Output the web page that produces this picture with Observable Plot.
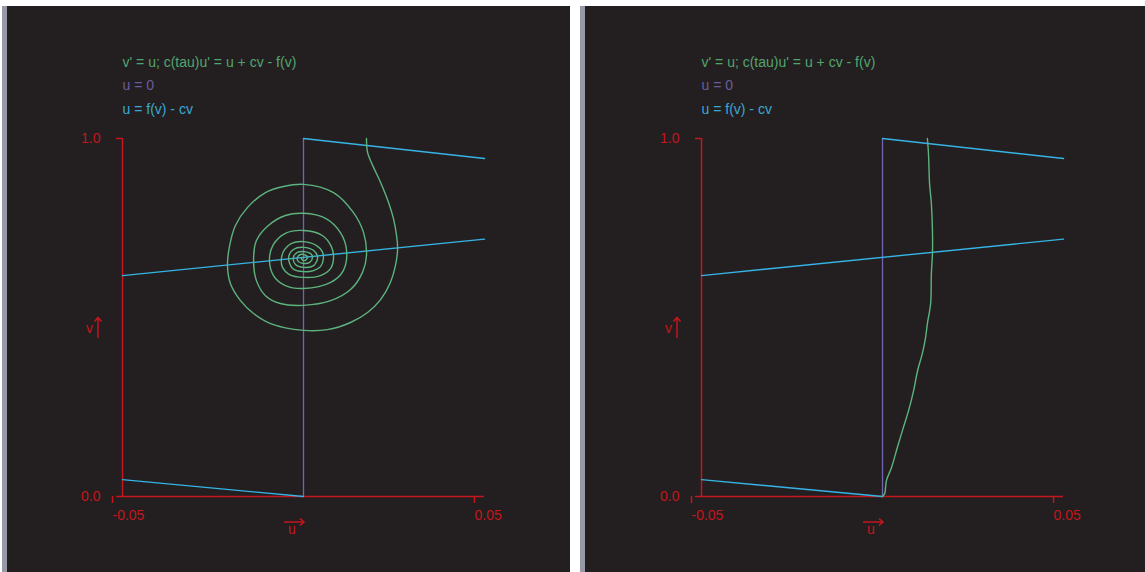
<!DOCTYPE html>
<html>
<head>
<meta charset="utf-8">
<script src="https://cdn.jsdelivr.net/npm/d3@7"></script>
<script src="https://cdn.jsdelivr.net/npm/@observablehq/plot@0.6"></script>
<style>
  html, body { margin: 0; padding: 0; background: #ffffff; width: 1145px; height: 572px; overflow: hidden; }
  .panel {
    position: absolute; top: 6px; height: 566px;
    background: #231f20;
    border-left: 5px solid #979aa5;
    overflow: hidden;
  }
  #left { left: 2px; width: 563px; }
  #right { left: 580px; width: 570px; }
  .panel svg { display: block; overflow: visible; }
</style>
</head>
<body>
<div class="panel" id="left"></div>
<div class="panel" id="right"></div>
<script>
// Phase plane of v' = u, c(tau) u' = u + c v - f(v)
const uDomain = [-0.05, 0.05];
const vDomain = [0, 1];
const uTicks = [-0.05, 0.05];
const vTicks = [0, 1];

const legendLabels = ["v' = u; c(tau)u' = u + cv - f(v)", "u = 0", "u = f(v) - cv"];
const axisNames = { x: "u", y: "v" };

// u = 0 nullcline
const zeroU = [0];

// u = f(v) - cv, three visible branches inside the window
const nullclineU = [0, -0.05, -0.05, 0.05, 0, 0.05];
const nullclineV = [0, 0.047, 0.617, 0.719, 1.0, 0.944];
const nullclineBranch = ["low", "low", "mid", "mid", "high", "high"];

// trajectory spiralling into the fixed point (left panel)
const spiral = [
  [0.0174, 1.000], [0.0177, 0.961], [0.0191, 0.925], [0.0213, 0.877], [0.0235, 0.821],
  [0.0249, 0.774], [0.0257, 0.729], [0.0260, 0.693], [0.0254, 0.645], [0.0240, 0.598],
  [0.0213, 0.550], [0.0177, 0.514], [0.0130, 0.486], [0.0066, 0.466], [0, 0.464],
  [-0.0091, 0.483], [-0.0138, 0.511], [-0.0174, 0.547], [-0.0202, 0.595], [-0.0210, 0.645],
  [-0.0204, 0.701], [-0.0188, 0.757], [-0.0155, 0.807], [-0.0105, 0.849], [-0.0055, 0.866],
  [0, 0.872], [0.0083, 0.849], [0.0138, 0.793], [0.0166, 0.737], [0.0174, 0.673],
  [0.0163, 0.626], [0.0130, 0.578], [0.0075, 0.547], [0, 0.534],
  [-0.0064, 0.539], [-0.0105, 0.561], [-0.0130, 0.603], [-0.0138, 0.659], [-0.0130, 0.715],
  [-0.0097, 0.757], [-0.0050, 0.785], [0, 0.791], [0.0061, 0.777], [0.0102, 0.737],
  [0.0119, 0.687], [0.0110, 0.631], [0.0075, 0.598], [0, 0.581],
  [-0.0050, 0.589], [-0.0083, 0.617], [-0.0094, 0.665], [-0.0083, 0.704], [-0.0050, 0.735],
  [0, 0.743], [0.0052, 0.729], [0.0077, 0.698], [0.0083, 0.668], [0.0075, 0.637],
  [0.0047, 0.617], [0, 0.612],
  [-0.0039, 0.620], [-0.0058, 0.640], [-0.0061, 0.665], [-0.0052, 0.690], [-0.0033, 0.707],
  [0, 0.712], [0.0036, 0.701], [0.0052, 0.684], [0.0055, 0.665], [0.0047, 0.642],
  [0.0028, 0.631], [0, 0.628],
  [-0.0030, 0.637], [-0.0041, 0.668], [-0.0028, 0.690], [0, 0.696], [0.0028, 0.687],
  [0.0039, 0.668], [0.0028, 0.645], [0, 0.640],
  [-0.0022, 0.648], [-0.0028, 0.668], [-0.0017, 0.682], [0, 0.684], [0.0019, 0.679],
  [0.0025, 0.668], [0.0017, 0.654], [0, 0.651],
  [-0.0014, 0.656], [-0.0017, 0.668], [-0.0008, 0.676], [0, 0.676], [0.0011, 0.670],
  [0.0008, 0.662], [0, 0.659], [-0.0006, 0.665], [0, 0.668]
];

// trajectory running down to the origin (right panel)
const front = [
  [0.0124, 1.000], [0.0127, 0.958], [0.0130, 0.874], [0.0135, 0.818], [0.0138, 0.743],
  [0.0138, 0.679], [0.0135, 0.623], [0.0133, 0.539], [0.0124, 0.483], [0.0119, 0.444],
  [0.0110, 0.399], [0.0097, 0.352], [0.0086, 0.296], [0.0072, 0.240], [0.0055, 0.184],
  [0.0041, 0.137], [0.0025, 0.081], [0.0011, 0.045], [0.0006, 0.008], [0, 0]
];

const COLORS = {
  axis: "#c4161c",
  trajectory: "#5db37e",
  zero: "#7066b0",
  nullcline: "#35b4e5",
  legend: ["#52a56f", "#6a5c9e", "#3aa8d4"]
};

const FONT = "'Liberation Sans', Arial, sans-serif";

// small direction arrows next to the axis names, placed relative to the frame
function axisArrows(index, scales, values, dimensions) {
  const { width, height, marginLeft, marginRight, marginTop, marginBottom } = dimensions;
  const left = marginLeft, bottom = height - marginBottom;
  const midX = (marginLeft + width - marginRight) / 2;
  const midY = (marginTop + height - marginBottom) / 2;
  const g = d3.create("svg:g")
    .attr("fill", "none")
    .attr("stroke", COLORS.axis)
    .attr("stroke-width", 1.5);
  // horizontal arrow above the u label
  const hx0 = midX - 19, hx1 = midX + 1, hy = bottom + 26;
  g.append("path").attr("d", `M${hx0},${hy}H${hx1}M${hx1 - 4},${hy - 3.5}L${hx1},${hy}L${hx1 - 4},${hy + 3.5}`);
  // vertical arrow beside the v label
  const vx = left - 24, vy0 = midY + 21, vy1 = midY + 0.5;
  g.append("path").attr("d", `M${vx},${vy0}V${vy1}M${vx - 3.5},${vy1 + 4}L${vx},${vy1}L${vx + 3.5},${vy1 + 4}`);
  return g.node();
}

function panel(trajectory, marginLeft) {
  const width = 563;
  return Plot.plot({
    width,
    height: 566,
    marginLeft,
    marginRight: width - marginLeft - 362,
    marginTop: 132,
    marginBottom: 76,
    style: { background: "transparent", color: COLORS.axis, fontFamily: FONT, fontSize: "14px", overflow: "visible" },
    x: { domain: uDomain, axis: null },
    y: { domain: vDomain, axis: null },
    marks: [
      // axes
      Plot.ruleX([uDomain[0]], { y1: vDomain[0], y2: vDomain[1], stroke: COLORS.axis, strokeWidth: 1.5 }),
      Plot.ruleY([vDomain[0]], { x1: uDomain[0], x2: uDomain[1], stroke: COLORS.axis, strokeWidth: 1.5 }),
      Plot.axisY({ ticks: vTicks, tickSize: 6, tickPadding: 16, tickFormat: (d) => d.toFixed(1), label: null,
        stroke: COLORS.axis, strokeWidth: 1.5, fill: COLORS.axis, fontSize: 14 }),
      Plot.axisX({ ticks: uTicks, tickSize: 7, tickPadding: 7, tickFormat: (d) => d.toFixed(2), label: null,
        stroke: COLORS.axis, strokeWidth: 1.5, fill: COLORS.axis, fontSize: 14, textAnchor: "start", dx: -10 }),
      // axis names with arrows
      axisArrows,
      Plot.text([axisNames.x], { text: (d) => d, frameAnchor: "bottom", dx: -11.5, dy: 37, fill: COLORS.axis, fontSize: 14 }),
      Plot.text([axisNames.y], { text: (d) => d, frameAnchor: "left", dx: -36.5, dy: 11.5, fill: COLORS.axis, fontSize: 14 }),
      // legend
      ...legendLabels.map((label, i) =>
        Plot.text([label], { text: (d) => d, frameAnchor: "top-left", textAnchor: "start", dy: -81.5 + i * 23.5,
          fill: COLORS.legend[i], fontSize: 14 })),
      // nullclines
      Plot.ruleX(zeroU, { y1: vDomain[0], y2: vDomain[1], stroke: COLORS.zero, strokeWidth: 1.3 }),
      Plot.line(nullclineU.map((u, i) => ({ u, v: nullclineV[i], branch: nullclineBranch[i] })),
        { x: "u", y: "v", z: "branch", stroke: COLORS.nullcline, strokeWidth: 1.4 }),
      // trajectory
      Plot.line(trajectory, { x: (d) => d[0], y: (d) => d[1], curve: "catmull-rom",
        stroke: COLORS.trajectory, strokeWidth: 1.4 })
    ]
  });
}

document.getElementById("left").append(panel(spiral, 115));
document.getElementById("right").append(panel(front, 116));
</script>
</body>
</html>
